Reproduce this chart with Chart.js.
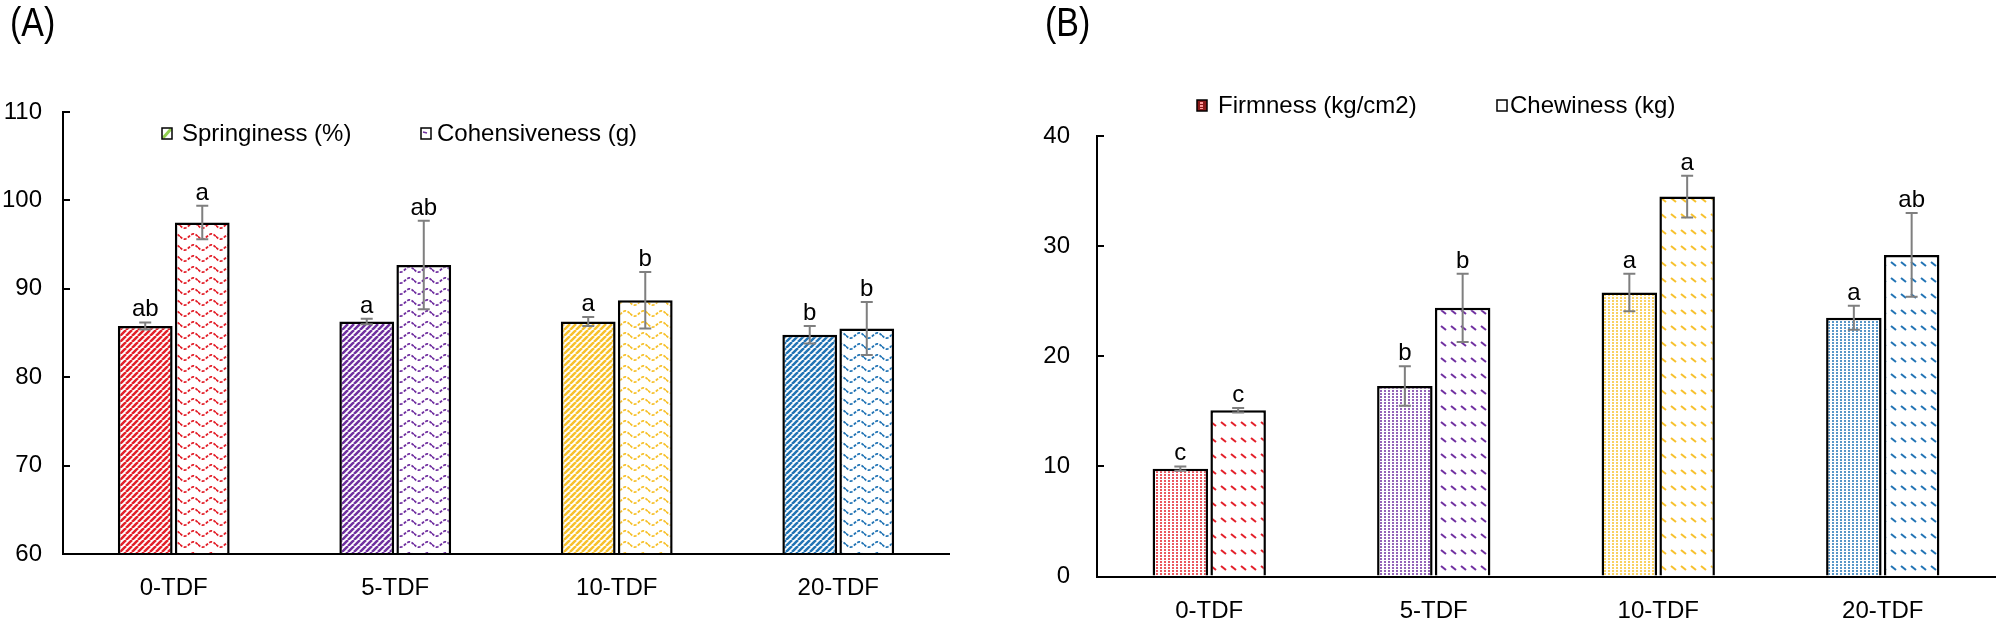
<!DOCTYPE html>
<html>
<head>
<meta charset="utf-8">
<script src="https://cdn.jsdelivr.net/npm/chart.js@4.4.1/dist/chart.umd.min.js"></script>
<style>
    body { margin: 0; background: #fff; width: 1998px; height: 625px; overflow: hidden; position: relative; font-family: "Liberation Sans", Arial, sans-serif; }
    .panel { position: absolute; top: 0; width: 999px; height: 625px; }
    .tag { position: absolute; top: 0px; font-size: 40px; color: #000; transform: scaleX(0.85); transform-origin: left top; }
</style>
</head>
<body>
<div class="panel" style="left:0"><canvas id="chartA" width="999" height="625"></canvas></div>
<div class="panel" style="left:999px"><canvas id="chartB" width="999" height="625"></canvas></div>
<div class="tag" style="left:10px">(A)</div>
<div class="tag" style="left:1045px">(B)</div>
<script>
const categories = ['0-TDF', '5-TDF', '10-TDF', '20-TDF'];

// panel A
const springiness = [85.8, 86.3, 86.3, 84.8];
const springinessErr = [0.4, 0.3, 0.5, 1.0];
const springinessLetters = ['ab', 'a', 'a', 'b'];
const cohesiveness = [97.5, 92.7, 88.7, 85.5];
const cohesivenessErr = [1.9, 5.0, 3.2, 3.0];
const cohesivenessLetters = ['a', 'ab', 'b', 'b'];

// panel B
const firmness = [9.8, 17.3, 25.8, 23.5];
const firmnessErr = [0.2, 1.8, 1.7, 1.1];
const firmnessLetters = ['c', 'b', 'a', 'a'];
const chewiness = [15.1, 24.4, 34.5, 29.2];
const chewinessErr = [0.2, 3.1, 1.9, 3.8];
const chewinessLetters = ['c', 'b', 'a', 'ab'];

const groupColors = ['#e3202a', '#7030a0', '#f7c12d', '#2274b5'];

Chart.defaults.font.family = '"Liberation Sans", Arial, sans-serif';
Chart.defaults.font.size = 24;
Chart.defaults.color = '#000';

function makePattern(type, color) {
    const c = document.createElement('canvas');
    const x = c.getContext('2d');
    if (type === 'stripe') {
        c.width = 6; c.height = 6;
        x.fillStyle = '#fff'; x.fillRect(0, 0, 6, 6);
        x.strokeStyle = color; x.lineWidth = 2.5;
        x.beginPath();
        for (let k = -1; k <= 1; k++) {
            x.moveTo(k * 6, 6);
            x.lineTo(k * 6 + 6, 0);
        }
        x.stroke();
    } else if (type === 'wave') {
        c.width = 18; c.height = 11;
        x.fillStyle = '#fff'; x.fillRect(0, 0, 18, 11);
        x.strokeStyle = color; x.lineWidth = 1.8;
        x.setLineDash([3, 1.5]);
        x.beginPath();
        for (let i = 0; i <= 18; i++) {
            const yy = 5.5 + 2.6 * Math.sin(i / 18 * Math.PI * 2);
            if (i === 0) x.moveTo(i, yy); else x.lineTo(i, yy);
        }
        x.stroke();
    } else if (type === 'dots') {
        c.width = 4; c.height = 3;
        x.fillStyle = '#fff'; x.fillRect(0, 0, 4, 3);
        x.fillStyle = color;
        x.globalAlpha = 0.75;
        x.fillRect(1, 0, 2, 2);
    } else if (type === 'dash') {
        c.width = 10; c.height = 16;
        x.fillStyle = '#fff'; x.fillRect(0, 0, 10, 16);
        x.strokeStyle = color; x.lineWidth = 2;
        x.beginPath();
        x.moveTo(2, 6); x.lineTo(7, 10);
        x.stroke();
    }
    return x.createPattern(c, 'repeat');
}

function patternsFor(type) {
    return groupColors.map(col => makePattern(type, col));
}

const errorBarPlugin = {
    id: 'errorBars',
    afterDatasetsDraw(chart) {
        const ctx = chart.ctx;
        const yScale = chart.scales.y;
        chart.data.datasets.forEach((ds, di) => {
            const meta = chart.getDatasetMeta(di);
            meta.data.forEach((bar, i) => {
                const v = ds.data[i];
                const e = ds.errors[i];
                const top = yScale.getPixelForValue(v + e);
                const bot = yScale.getPixelForValue(v - e);
                ctx.save();
                ctx.strokeStyle = '#7f7f7f';
                ctx.lineWidth = 2;
                ctx.beginPath();
                ctx.moveTo(bar.x, top); ctx.lineTo(bar.x, bot);
                ctx.moveTo(bar.x - 6, top); ctx.lineTo(bar.x + 6, top);
                ctx.moveTo(bar.x - 6, bot); ctx.lineTo(bar.x + 6, bot);
                ctx.stroke();
                ctx.fillStyle = '#000';
                ctx.font = '24px "Liberation Sans", Arial, sans-serif';
                ctx.textAlign = 'center';
                ctx.textBaseline = 'alphabetic';
                ctx.fillText(ds.letters[i], bar.x, top - 6);
                ctx.restore();
            });
        });
    }
};

function drawMarker(ctx, kind, x, y) {
    const w = 10, h = 11;
    ctx.save();
    ctx.fillStyle = kind === 'firm' ? '#8b1a1a' : '#fff';
    ctx.fillRect(x, y, w, h);
    if (kind === 'spring') {
        ctx.strokeStyle = '#92d050'; ctx.lineWidth = 3;
        ctx.beginPath(); ctx.moveTo(x + 1, y + h - 1); ctx.lineTo(x + w - 1, y + 1); ctx.stroke();
    } else if (kind === 'cohes') {
        ctx.strokeStyle = '#7030a0'; ctx.lineWidth = 1.5;
        ctx.beginPath(); ctx.moveTo(x + 2, y + 4); ctx.lineTo(x + 6, y + 5); ctx.stroke();
    } else if (kind === 'firm') {
        ctx.fillStyle = '#ff9a9a';
        ctx.fillRect(x + 3, y + 2, 3, 2);
        ctx.fillRect(x + 3, y + 5, 3, 2);
        ctx.fillRect(x + 3, y + 8, 3, 1);
    }
    ctx.strokeStyle = '#000'; ctx.lineWidth = 1.5;
    ctx.strokeRect(x, y, w, h);
    ctx.restore();
}

function legendPlugin(items) {
    return {
        id: 'panelLegend',
        afterDraw(chart) {
            const ctx = chart.ctx;
            items.forEach(it => {
                drawMarker(ctx, it.kind, it.mx, it.my);
                ctx.save();
                ctx.fillStyle = '#000';
                ctx.font = '24px "Liberation Sans", Arial, sans-serif';
                ctx.textAlign = 'left';
                ctx.textBaseline = 'middle';
                ctx.fillText(it.text, it.tx, it.ty);
                ctx.restore();
            });
        }
    };
}

function makeChart(id, cfg) {
    const ctx = document.getElementById(id).getContext('2d');
    return new Chart(ctx, {
        type: 'bar',
        data: {
            labels: categories,
            datasets: cfg.datasets.map(d => ({
                label: d.label,
                data: d.data,
                errors: d.errors,
                letters: d.letters,
                base: cfg.min,
                backgroundColor: patternsFor(d.pattern),
                borderColor: '#000',
                borderWidth: 2.5,
                categoryPercentage: 0.515,
                barPercentage: 0.96
            }))
        },
        options: {
            responsive: false,
            animation: false,
            layout: { padding: cfg.padding },
            plugins: { legend: { display: false }, tooltip: { enabled: false } },
            scales: {
                x: {
                    grid: { display: false },
                    border: { display: true, color: '#000', width: 2 },
                    ticks: { padding: 12, color: '#000' },
                    afterFit: s => { s.height = cfg.xHeight; }
                },
                y: {
                    min: cfg.min,
                    max: cfg.max,
                    ticks: { stepSize: 10, padding: cfg.tickPad, color: '#000' },
                    grid: { drawOnChartArea: false, drawTicks: true, tickLength: -7, color: '#000', lineWidth: 2 },
                    border: { display: true, color: '#000', width: 2 },
                    afterFit: s => { s.width = cfg.yWidth; }
                }
            }
        },
        plugins: [errorBarPlugin, legendPlugin(cfg.legend)]
    });
}

makeChart('chartA', {
    min: 60, max: 110,
    padding: { top: 112, right: 50, left: 0, bottom: 0 },
    xHeight: 71, yWidth: 63, tickPad: 28,
    datasets: [
        { label: 'Springiness (%)', data: springiness, errors: springinessErr, letters: springinessLetters, pattern: 'stripe' },
        { label: 'Cohensiveness (g)', data: cohesiveness, errors: cohesivenessErr, letters: cohesivenessLetters, pattern: 'wave' }
    ],
    legend: [
        { kind: 'spring', text: 'Springiness (%)', mx: 162, my: 128, tx: 182, ty: 134 },
        { kind: 'cohes', text: 'Cohensiveness (g)', mx: 421, my: 128, tx: 437, ty: 134 }
    ]
});

makeChart('chartB', {
    min: 0, max: 40,
    padding: { top: 136, right: 3, left: 0, bottom: 0 },
    xHeight: 46, yWidth: 98, tickPad: 34,
    datasets: [
        { label: 'Firmness (kg/cm2)', data: firmness, errors: firmnessErr, letters: firmnessLetters, pattern: 'dots' },
        { label: 'Chewiness (kg)', data: chewiness, errors: chewinessErr, letters: chewinessLetters, pattern: 'dash' }
    ],
    legend: [
        { kind: 'firm', text: 'Firmness (kg/cm2)', mx: 198, my: 100, tx: 219, ty: 106 },
        { kind: 'chew', text: 'Chewiness (kg)', mx: 498, my: 100, tx: 511, ty: 106 }
    ]
});
</script>
</body>
</html>
